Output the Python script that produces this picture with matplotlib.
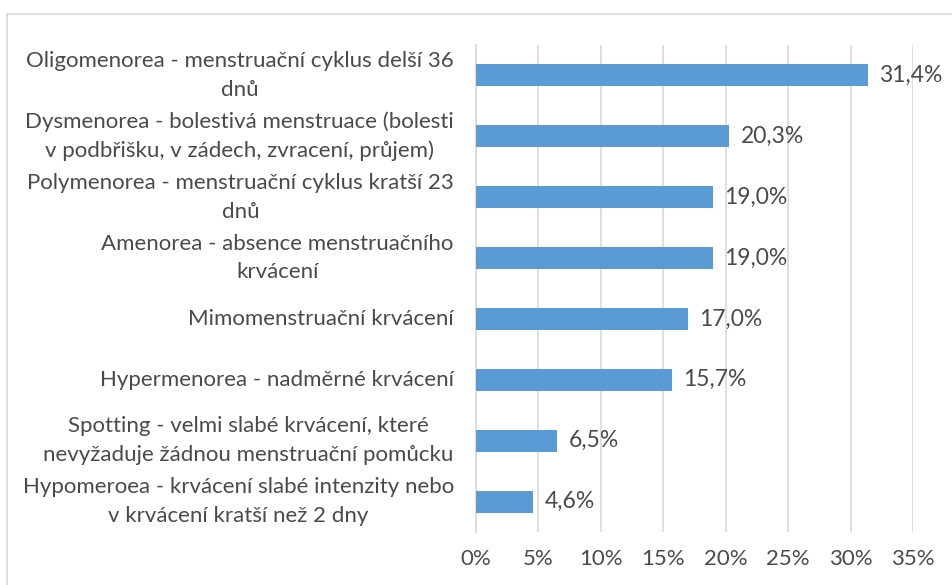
import numpy as np
import matplotlib
matplotlib.use('Agg')
import matplotlib.pyplot as plt
from matplotlib.patches import Rectangle
from matplotlib.ticker import FuncFormatter

# data (top to bottom as in the picture)
labels = ['Oligomenorea - menstruační cyklus delší 36\ndnů',
          'Dysmenorea - bolestivá menstruace (bolesti\nv podbřišku, v zádech, zvracení, průjem)',
          'Polymenorea - menstruační cyklus kratší 23\ndnů',
          'Amenorea - absence menstruačního\nkrvácení',
          'Mimomenstruační krvácení',
          'Hypermenorea - nadměrné krvácení',
          'Spotting - velmi slabé krvácení, které\nnevyžaduje žádnou menstruační pomůcku',
          'Hypomeroea - krvácení slabé intenzity nebo\nv krvácení kratší než 2 dny']
values = [31.4, 20.3, 19.0, 19.0, 17.0, 15.7, 6.5, 4.6]
xticks = [0, 5, 10, 15, 20, 25, 30, 35]

plt.rcParams['font.family'] = ['Lato', 'DejaVu Sans']
txt = '#4a4a4a'
grid = '#D9D9D9'

fig = plt.figure(figsize=(9.53, 5.85), dpi=100)
ax = fig.add_axes([476/953, 1-532/585, (913-476)/953, (532-45)/585])

# outer frame
fig.patches.append(Rectangle((7/953, -0.01), 1.0, 1-14/585+0.01, transform=fig.transFigure,
                             fill=False, edgecolor=grid, linewidth=1.2))

y = np.arange(len(values))
ax.barh(y, values, height=0.36, color='#5B9BD5', zorder=3)
for yi, v in zip(y, values):
    ax.text(v + 0.9, yi, ('%.1f%%' % v).replace('.', ','), va='center', ha='left',
            fontsize=16.5, color=txt)

# category labels with centred lines
for yi, lab in zip(y, labels):
    ax.annotate(lab, xy=(0, yi), xycoords=('axes fraction', 'data'),
                xytext=(-16, 0), textcoords='offset points', ha='right', va='center',
                multialignment='center', linespacing=1.55, fontsize=16, color=txt)

ax.set_ylim(len(values) - 0.5, -0.5)
ax.set_xlim(0, 35)
ax.set_xticks(xticks)
ax.xaxis.set_major_formatter(FuncFormatter(lambda v, p: '%d%%' % v))
ax.set_yticks([])
ax.tick_params(axis='x', length=0, pad=12, labelsize=16, labelcolor=txt)
ax.grid(axis='x', color=grid, linewidth=1.2, zorder=0)
for s in ['top', 'right', 'bottom']:
    ax.spines[s].set_visible(False)
ax.spines['left'].set_color(grid)
ax.spines['left'].set_linewidth(1.2)

plt.savefig('out.png', dpi=100)
